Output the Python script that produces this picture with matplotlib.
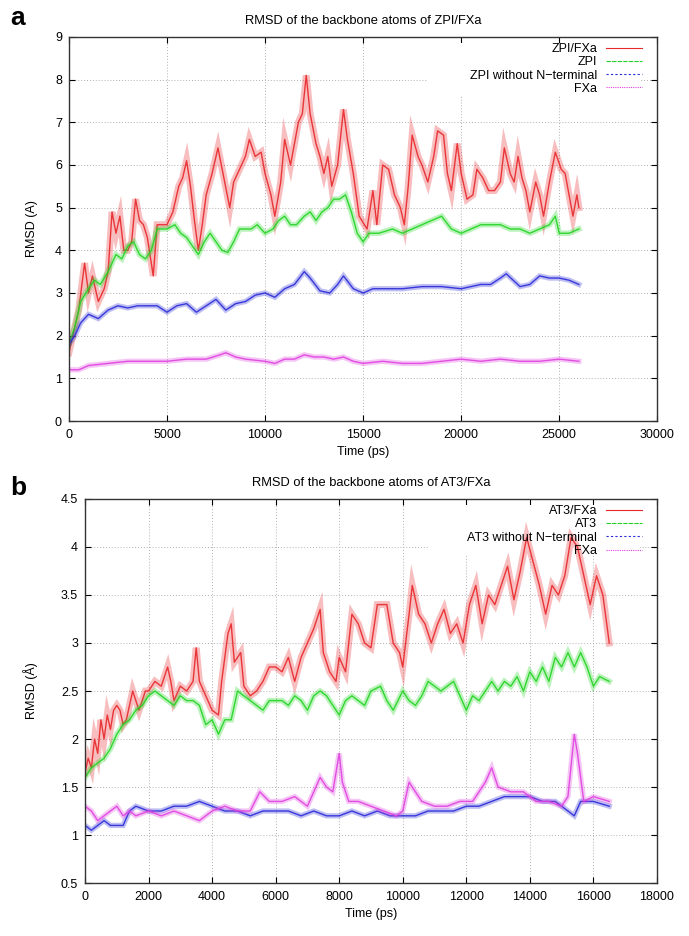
import matplotlib
matplotlib.use("Agg")
import matplotlib.pyplot as plt
from matplotlib.patches import Rectangle

plt.rcParams['font.family'] = ['Liberation Sans', 'DejaVu Sans']

# ---- panel a : ZPI/FXa (time in ps, RMSD in A) ----
a_t_red = [0, 500, 800, 1000, 1200, 1500, 1800, 2000, 2200, 2400, 2600, 2800, 3000, 3200, 3400,
           3600, 3800, 4000, 4300, 4500, 5000, 5300, 5600, 5800, 6000, 6200, 6400, 6600, 6800,
           7000, 7300, 7600, 7900, 8200, 8400, 8700, 9000, 9200, 9500, 9800, 10000, 10300,
           10500, 10800, 11000, 11300, 11500, 11700, 11900, 12100, 12300, 12600, 12800, 13000,
           13200, 13400, 13700, 14000, 14200, 14500, 14800, 15200, 15500, 15700, 16000, 16300,
           16600, 16900, 17100, 17300, 17500, 17800, 18000, 18300, 18600, 18800, 19100, 19300,
           19500, 19800, 20000, 20300, 20600, 20800, 21100, 21400, 21700, 22000, 22200, 22500,
           22700, 22900, 23100, 23300, 23500, 23800, 24000, 24200, 24500, 24800, 25100, 25300,
           25500, 25700, 25900, 26000]
a_red = [1.6, 2.6, 3.7, 3.0, 3.4, 2.8, 3.1, 3.5, 4.9, 4.4, 4.8, 4.0, 4.0, 4.2, 5.2,
         4.7, 4.6, 4.3, 3.4, 4.6, 4.6, 4.9, 5.5, 5.7, 6.1, 5.5, 4.7, 4.0, 4.6,
         5.3, 5.8, 6.4, 5.7, 5.0, 5.6, 5.9, 6.2, 6.6, 6.2, 6.3, 5.8, 5.3,
         4.8, 5.6, 6.6, 6.0, 6.5, 7.0, 7.2, 8.1, 7.2, 6.5, 6.2, 5.8,
         6.2, 5.5, 6.0, 7.3, 6.6, 5.8, 4.8, 4.5, 5.4, 4.6, 6.0, 5.9,
         5.3, 5.0, 4.6, 5.5, 6.7, 6.2, 6.0, 5.6, 6.2, 6.8, 6.7, 5.8,
         5.4, 6.5, 5.8, 5.2, 5.3, 5.9, 5.7, 5.4, 5.4, 5.6, 6.4, 5.8,
         5.6, 6.2, 5.7, 5.4, 4.9, 5.6, 5.3, 4.8, 5.6, 6.3, 5.9, 5.8,
         5.3, 4.8, 5.3, 5.0]

a_t_green = [0, 300, 600, 1000, 1300, 1600, 2000, 2400, 2700, 3000, 3300, 3600, 3900, 4200, 4500,
             5000, 5400, 5700, 6000, 6300, 6600, 6900, 7200, 7500, 7800, 8100, 8400, 8700, 9000,
             9300, 9600, 10000, 10400, 10700, 11000, 11300, 11600, 12000, 12300, 12600, 12900,
             13200, 13500, 13800, 14100, 14400, 14700, 15000, 15300, 15800, 16500, 17000, 17500,
             18000, 18500, 19000, 19500, 20000, 20500, 21000, 21500, 22000, 22500, 23000, 23500,
             24000, 24500, 24800, 25000, 25500, 26000]
a_green = [1.8, 2.2, 2.8, 3.1, 3.3, 3.2, 3.5, 3.9, 3.8, 4.1, 4.2, 3.9, 3.8, 4.0, 4.5,
           4.5, 4.6, 4.4, 4.3, 4.1, 3.9, 4.2, 4.4, 4.2, 4.0, 3.95, 4.2, 4.5, 4.5,
           4.5, 4.6, 4.4, 4.5, 4.7, 4.8, 4.6, 4.6, 4.8, 4.9, 4.7, 4.9,
           5.0, 5.2, 5.2, 5.3, 4.9, 4.4, 4.2, 4.4, 4.4, 4.5, 4.4, 4.5,
           4.6, 4.7, 4.8, 4.5, 4.4, 4.5, 4.6, 4.6, 4.6, 4.5, 4.5, 4.4,
           4.5, 4.6, 4.8, 4.4, 4.4, 4.5]

a_t_blue = [0, 300, 600, 1000, 1500, 2000, 2500, 3000, 3500, 4000, 4500, 5000, 5500, 6000, 6500,
            7000, 7500, 8000, 8500, 9000, 9500, 10000, 10500, 11000, 11500, 12000, 12300, 12800,
            13300, 13700, 14000, 14500, 15000, 15500, 16000, 17000, 18000, 19000, 20000, 21000,
            21500, 22000, 22300, 23000, 23500, 24000, 24500, 25000, 25500, 26000]
a_blue = [1.8, 2.0, 2.3, 2.5, 2.4, 2.6, 2.7, 2.65, 2.7, 2.7, 2.7, 2.55, 2.7, 2.75, 2.55,
          2.7, 2.85, 2.6, 2.75, 2.8, 2.95, 3.0, 2.9, 3.1, 3.2, 3.5, 3.35, 3.05,
          3.0, 3.2, 3.4, 3.1, 3.0, 3.1, 3.1, 3.1, 3.15, 3.15, 3.1, 3.2,
          3.2, 3.35, 3.45, 3.15, 3.2, 3.4, 3.35, 3.35, 3.3, 3.2]

a_t_mag = [0, 500, 1000, 2000, 3000, 4000, 5000, 6000, 7000, 7700, 8000, 8500, 9000, 10000,
           10500, 11000, 11500, 12000, 12500, 13000, 13500, 14000, 14500, 15000, 16000, 17000,
           18000, 19000, 20000, 21000, 22000, 23000, 24000, 25000, 26000]
a_mag = [1.2, 1.2, 1.3, 1.35, 1.4, 1.4, 1.4, 1.45, 1.45, 1.55, 1.6, 1.5, 1.45, 1.4,
         1.35, 1.45, 1.45, 1.55, 1.5, 1.5, 1.45, 1.5, 1.4, 1.35, 1.4, 1.35,
         1.35, 1.4, 1.45, 1.4, 1.45, 1.4, 1.4, 1.45, 1.4]

# ---- panel b : AT3/FXa ----
b_t_red = [0, 100, 200, 300, 400, 500, 600, 700, 800, 900, 1000, 1100, 1200, 1300, 1400, 1500,
           1600, 1700, 1800, 1900, 2000, 2200, 2400, 2600, 2700, 2800, 3000, 3200, 3400, 3500,
           3600, 3800, 4000, 4200, 4300, 4500, 4600, 4700, 4900, 5000, 5200, 5400, 5600, 5800,
           6000, 6200, 6400, 6600, 6800, 7000, 7200, 7400, 7500, 7700, 7900, 8000, 8200, 8400,
           8600, 8800, 9000, 9200, 9500, 9700, 9900, 10000, 10200, 10300, 10500, 10700, 10900,
           11100, 11300, 11500, 11700, 11900, 12100, 12300, 12500, 12700, 12900, 13100, 13300,
           13500, 13700, 13900, 14100, 14300, 14500, 14700, 14900, 15100, 15300, 15500, 15700,
           15900, 16100, 16300, 16500]
b_red = [1.65, 1.8, 1.7, 2.0, 1.85, 2.2, 2.0, 2.25, 2.1, 2.3, 2.35, 2.3, 2.15, 2.2, 2.35, 2.5,
         2.4, 2.3, 2.4, 2.5, 2.5, 2.6, 2.55, 2.75, 2.6, 2.4, 2.55, 2.5, 2.6, 2.95,
         2.6, 2.45, 2.3, 2.25, 2.6, 3.1, 3.2, 2.8, 2.9, 2.55, 2.45, 2.5, 2.6, 2.75,
         2.75, 2.7, 2.85, 2.6, 2.85, 3.0, 3.15, 3.35, 2.9, 2.7, 2.6, 2.85, 2.7, 3.3,
         3.2, 3.0, 2.95, 3.4, 3.4, 3.0, 2.9, 2.75, 3.3, 3.6, 3.3, 3.2, 3.0,
         3.2, 3.35, 3.1, 3.2, 3.0, 3.4, 3.6, 3.2, 3.5, 3.4, 3.6, 3.8,
         3.45, 3.75, 4.1, 3.85, 3.6, 3.3, 3.6, 3.5, 3.7, 4.1, 4.0, 3.7,
         3.4, 3.7, 3.5, 3.0]

b_t_green = [0, 200, 400, 600, 800, 1000, 1200, 1400, 1600, 1800, 2000, 2200, 2400, 2600, 2800,
             3000, 3200, 3400, 3600, 3800, 4000, 4200, 4400, 4600, 4800, 5000, 5200, 5400, 5600,
             5800, 6000, 6200, 6400, 6600, 6800, 7000, 7200, 7400, 7600, 7800, 8000, 8200, 8400,
             8600, 8800, 9000, 9300, 9500, 9700, 10000, 10200, 10400, 10600, 10800, 11000, 11200,
             11400, 11600, 11800, 12000, 12200, 12400, 12600, 12800, 13000, 13200, 13400, 13600,
             13800, 14000, 14200, 14400, 14600, 14800, 15000, 15200, 15400, 15600, 15800, 16000,
             16200, 16500]
b_green = [1.6, 1.7, 1.75, 1.8, 1.9, 2.05, 2.15, 2.2, 2.3, 2.35, 2.45, 2.5, 2.45, 2.4, 2.35,
           2.45, 2.4, 2.4, 2.35, 2.15, 2.2, 2.05, 2.2, 2.2, 2.5, 2.45, 2.4, 2.35, 2.3,
           2.4, 2.4, 2.4, 2.35, 2.45, 2.4, 2.3, 2.45, 2.5, 2.45, 2.35, 2.25, 2.4, 2.45,
           2.4, 2.35, 2.5, 2.55, 2.4, 2.3, 2.5, 2.4, 2.35, 2.45, 2.6, 2.55, 2.5,
           2.55, 2.6, 2.45, 2.3, 2.45, 2.4, 2.5, 2.6, 2.5, 2.6, 2.55, 2.65,
           2.5, 2.7, 2.6, 2.75, 2.6, 2.85, 2.75, 2.9, 2.75, 2.9, 2.75, 2.55,
           2.65, 2.6]

b_t_blue = [0, 200, 400, 600, 800, 1000, 1200, 1400, 1600, 2000, 2400, 2800, 3200, 3600, 4000,
            4400, 4800, 5200, 5600, 6000, 6400, 6800, 7200, 7600, 8000, 8400, 8800, 9200, 9600,
            10000, 10400, 10800, 11200, 11600, 12000, 12400, 12800, 13200, 13600, 14000, 14400,
            14800, 15200, 15400, 15600, 16000, 16500]
b_blue = [1.1, 1.05, 1.1, 1.15, 1.1, 1.1, 1.1, 1.25, 1.3, 1.25, 1.25, 1.3, 1.3, 1.35, 1.3,
          1.25, 1.25, 1.2, 1.25, 1.25, 1.25, 1.2, 1.25, 1.2, 1.2, 1.25, 1.2, 1.25, 1.2,
          1.2, 1.2, 1.25, 1.25, 1.25, 1.3, 1.3, 1.35, 1.4, 1.4, 1.4, 1.35,
          1.35, 1.25, 1.2, 1.35, 1.35, 1.3]

b_t_mag = [0, 200, 400, 600, 800, 1000, 1200, 1400, 1600, 2000, 2400, 2800, 3200, 3600, 4000,
           4400, 4800, 5200, 5500, 5800, 6200, 6600, 7000, 7200, 7400, 7600, 7800, 8000, 8100,
           8300, 8600, 9000, 9400, 9800, 10000, 10200, 10400, 10600, 11000, 11400, 11800, 12200,
           12600, 12800, 13000, 13400, 13800, 14200, 14600, 15000, 15200, 15400, 15500, 15600,
           15700, 16000, 16500]
b_mag = [1.3, 1.25, 1.15, 1.2, 1.25, 1.3, 1.2, 1.25, 1.2, 1.25, 1.2, 1.25, 1.2, 1.15, 1.25,
         1.3, 1.25, 1.25, 1.45, 1.35, 1.35, 1.4, 1.3, 1.45, 1.6, 1.5, 1.45, 1.85, 1.55,
         1.35, 1.35, 1.3, 1.25, 1.2, 1.25, 1.55, 1.45, 1.35, 1.3, 1.3, 1.35, 1.35,
         1.55, 1.7, 1.5, 1.45, 1.45, 1.35, 1.35, 1.3, 1.4, 2.05, 1.85, 1.6,
         1.35, 1.4, 1.35]

colors = ['#e8272a', '#22d422', '#2a2ad8', '#e040e0']
styles = ['-', (0, (4, 1)), (0, (2, 2)), (0, (1, 1))]
bands = [5.0, 4.0, 3.8, 3.8]


def draw(ax, series, labels, xmax, xstep, ymin, ymax, ystep, title, ylab, ylab_x, key_x0, key_y0):
    for (t, v), lab, c, ls, bw in zip(series, labels, colors, styles, bands):
        # wide faint band imitates the noisy trace thickness
        ax.plot(t, v, color=c, lw=bw, alpha=0.3, solid_joinstyle='miter')
        ax.plot(t, v, color=c, lw=1.0, alpha=0.9)
        ax.plot([], [], color=c, lw=0.8, ls=ls, label=lab)
    ax.set_xlim(0, xmax)
    ax.set_ylim(ymin, ymax)
    ax.set_xticks(range(0, xmax + 1, xstep))
    ticks = []
    y = ymin
    while y <= ymax + 1e-9:
        ticks.append(round(y, 2))
        y += ystep
    ax.set_yticks(ticks)
    ax.set_yticklabels(['%g' % v for v in ticks])
    ax.grid(True, color='#b0b0b0', ls=(0, (1, 2)), lw=0.7)
    # gnuplot clears the grid behind the key
    ax.add_patch(Rectangle((key_x0, key_y0), 0.97 - key_x0, 0.985 - key_y0,
                           transform=ax.transAxes, facecolor='white', edgecolor='none', zorder=1.7))
    ax.tick_params(direction='in', top=True, right=True, labelsize=9, length=4)
    ax.tick_params(axis='x', pad=6)
    ax.tick_params(axis='y', pad=5)
    for s in ax.spines.values():
        s.set_linewidth(1.0)
        s.set_color('#333333')
    ax.set_xlabel('Time (ps)', fontsize=9)
    ax.xaxis.set_label_coords(0.5, -0.066)
    ax.set_ylabel(ylab, fontsize=9)
    ax.yaxis.set_label_coords(ylab_x, 0.5)
    ax.set_title(title, fontsize=9.3, pad=9)
    ax.legend(loc='upper right', bbox_to_anchor=(0.9745, 0.984), frameon=False, markerfirst=False,
              fontsize=9, handlelength=2.9, labelspacing=0.1, borderaxespad=0, borderpad=0,
              handletextpad=0.7)


fig = plt.figure(figsize=(6.89, 9.36), dpi=100)
ax1 = fig.add_axes([0.100, 0.5502, 0.854, 0.4103])
ax2 = fig.add_axes([0.1234, 0.0566, 0.830, 0.4103])

draw(ax1, [(a_t_red, a_red), (a_t_green, a_green), (a_t_blue, a_blue), (a_t_mag, a_mag)],
     ['ZPI/FXa', 'ZPI', 'ZPI without N\u2212terminal', 'FXa'],
     30000, 5000, 0, 9, 1, 'RMSD of the backbone atoms of ZPI/FXa', 'RMSD (A)', -0.053,
     0.61, 0.849)
draw(ax2, [(b_t_red, b_red), (b_t_green, b_green), (b_t_blue, b_blue), (b_t_mag, b_mag)],
     ['AT3/FXa', 'AT3', 'AT3 without N\u2212terminal', 'FXa'],
     18000, 2000, 0.5, 4.5, 0.5, 'RMSD of the backbone atoms of AT3/FXa', 'RMSD (\u00c5)', -0.082,
     0.60, 0.854)

fig.text(0.026, 0.981, 'a', fontsize=19, fontweight='bold', va='center', ha='center')
fig.text(0.026, 0.479, 'b', fontsize=19, fontweight='bold', va='center', ha='center')

fig.savefig('out.png', dpi=100)
